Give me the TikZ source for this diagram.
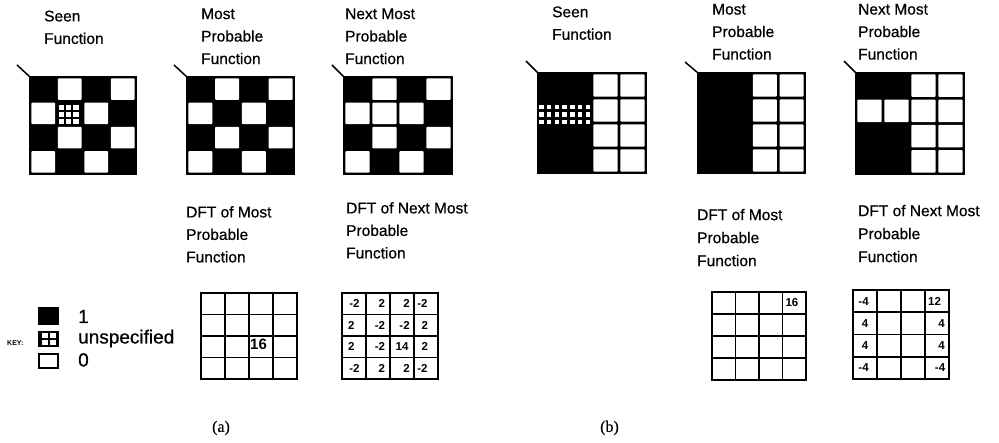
\documentclass[tikz,border=0pt]{standalone}
\usepackage{fontspec}
\setmainfont{Liberation Sans}
\newfontfamily\scanfont{Liberation Sans}[FakeBold=0.6]
\newfontfamily\capfont{Liberation Serif}[FakeBold=0.5]
\tikzset{
  lbl/.style={font=\scanfont\fontsize{15.5}{22.5}\selectfont, align=left, anchor=north west, inner sep=0pt},
  lblb/.style={lbl, font=\scanfont\fontsize{15.5}{23}\selectfont},
  gl/.style={line width=1.8pt},
  tickline/.style={line width=1.5pt},
  num/.style={font=\bfseries\fontsize{11.5}{12}\selectfont, inner sep=0pt},
  keytxt/.style={font=\scanfont\fontsize{19}{20}\selectfont, anchor=base west, inner sep=0pt},
  caplbl/.style={font=\capfont\fontsize{16}{18}\selectfont, inner sep=0pt},
}
% function grid: x0 y0 w h whites(col/row)
\newcommand\fgrid[5]{%
  \fill[black] (#1,#2) rectangle ++(#3,#4);
  \foreach \cc/\rr in {#5} {
    \fill[white, rounded corners=0.8pt] ({#1+\cc*#3/4+1.4},{#2+\rr*#4/4+1.4}) rectangle ({#1+(\cc+1)*#3/4-1.4},{#2+(\rr+1)*#4/4-1.4});
  }
  \draw[gl] (#1,#2) rectangle ++(#3,#4);
}
% DFT grid: x0 y0 w h
\newcommand\dgrid[4]{%
  \foreach \k in {1,2,3} {
    \draw[gl] ({#1+\k*#3/4},#2) -- ++(0,#4);
    \draw[gl] (#1,{#2+\k*#4/4}) -- ++(#3,0);
  }
  \draw[gl] (#1,#2) rectangle ++(#3,#4);
}
\newcommand\setg[4]{\def\Gx{#1}\def\Gy{#2}\def\Gw{#3}\def\Gh{#4}}
% name, column position, row, anchor, text
\newcommand\dnum[5]{\node[num,anchor=#4] (#1) at ({\Gx+#2*\Gw/4},{\Gy+(#3+0.5)*\Gh/4}) {#5};}
\begin{document}
\begin{tikzpicture}[x=1pt,y=-1pt]
\useasboundingbox (0,0) rectangle (999,443);

% ---------------- panel (a) ----------------
\node[lbl] (aSeenT) at (44,10.4) {Seen\\Function};
\node[lbl] (aMostT) at (201,8.2) {Most\\Probable\\Function};
\node[lbl] (aNextT) at (345,8.2) {Next Most\\Probable\\Function};

\fgrid{30}{77}{106}{97}{1/0,3/0,0/1,2/1,1/2,3/2,0/3,2/3}
\foreach \i in {0,1,2} \foreach \j in {0,1,2}
  \fill[white] ({58.5+\i*7.3},{105.5+\j*7}) rectangle ++(5.5,5);
\fgrid{187}{77}{107}{97}{1/0,3/0,0/1,2/1,1/2,3/2,0/3,2/3}
\fgrid{344}{77}{108}{97}{1/0,3/0,0/1,1/1,2/1,1/2,3/2,0/3,2/3}

\coordinate (aT1) at (17,65);  \coordinate (aC1) at (30,77);
\coordinate (aT2) at (174,65); \coordinate (aC2) at (187,77);
\coordinate (aT3) at (332,65); \coordinate (aC3) at (344,77);
\draw[tickline] (aT1) -- (aC1);
\draw[tickline] (aT2) -- (aC2);
\draw[tickline] (aT3) -- (aC3);

\node[lbl] (aDftT) at (186,206) {DFT of Most\\Probable\\Function};
\node[lbl] (aDftNT) at (346,202) {DFT of Next Most\\Probable\\Function};

\dgrid{201}{293}{96}{86}
\setg{201}{293}{96}{86}
\node[num, anchor=west, font=\bfseries\fontsize{15}{16}\selectfont] (a16) at ({\Gx+2.04*\Gw/4},{\Gy+2.4*\Gh/4}) {16};

\dgrid{342}{293}{96}{86}
\setg{342}{293}{96}{86}
\dnum{n00}{0.3}{0}{west}{-2}
\dnum{n01}{1.8}{0}{east}{2}
\dnum{n02}{2.83}{0}{east}{2}
\dnum{n03}{3.35}{0}{center}{-2}
\dnum{n10}{0.25}{1}{west}{2}
\dnum{n11}{1.8}{1}{east}{-2}
\dnum{n12}{2.83}{1}{east}{-2}
\dnum{n13}{3.45}{1}{center}{2}
\dnum{n20}{0.25}{2}{west}{2}
\dnum{n21}{1.8}{2}{east}{-2}
\dnum{n22}{2.5}{2}{center}{14}
\dnum{n23}{3.45}{2}{center}{2}
\dnum{n30}{0.3}{3}{west}{-2}
\dnum{n31}{1.8}{3}{east}{2}
\dnum{n32}{2.83}{3}{east}{2}
\dnum{n33}{3.35}{3}{center}{-2}

% key
\fill[black] (38,307) rectangle (59,325);
\fill[black] (38,331) rectangle (59,347);
\foreach \i in {0,1} \foreach \j in {0,1}
  \fill[white] ({41.5+\i*8},{333.5+\j*6.5}) rectangle ++(6,5);
\draw[gl] (38.9,353.9) rectangle (58.1,368.1);
\node[keytxt] (k1) at (78,323) {1};
\node[keytxt] (k2) at (78,343.5) {unspecified};
\node[keytxt] (k3) at (78,366.5) {0};
\node[anchor=base west, inner sep=0pt, font=\bfseries\fontsize{7}{8}\selectfont] (kkey) at (7,346) {KEY:};

\node[caplbl] (capA) at (221,428) {(a)};

% ---------------- panel (b) ----------------
\node[lbl] (bSeenT) at (552,6.2) {Seen\\Function};
\node[lbl] (bMostT) at (712,3.7) {Most\\Probable\\Function};
\node[lbl] (bNextT) at (858,3.7) {Next Most\\Probable\\Function};

\fgrid{538}{73}{108}{100}{2/0,3/0,2/1,3/1,2/2,3/2,2/3,3/3}
\foreach \i in {0,...,6} \foreach \j in {0,1,2}
  \fill[white] ({539+\i*7.75},{105+\j*7.5}) rectangle ++(4.5,4.3);
\fgrid{698}{73}{107}{100}{2/0,3/0,2/1,3/1,2/2,3/2,2/3,3/3}
\fgrid{856}{73}{108}{101}{2/0,3/0,0/1,1/1,2/1,3/1,2/2,3/2,2/3,3/3}

\coordinate (bT1) at (526,61); \coordinate (bC1) at (538,73);
\coordinate (bT2) at (685,62); \coordinate (bC2) at (698,73);
\coordinate (bT3) at (844,61); \coordinate (bC3) at (856,73);
\draw[tickline] (bT1) -- (bC1);
\draw[tickline] (bT2) -- (bC2);
\draw[tickline] (bT3) -- (bC3);

\node[lblb] (bDftT) at (697,208.7) {DFT of Most\\Probable\\Function};
\node[lblb] (bDftNT) at (858,204.7) {DFT of Next Most\\Probable\\Function};

\dgrid{712}{292}{94}{88}
\setg{712}{292}{94}{88}
\dnum{b16}{3.4}{0}{center}{16}

\dgrid{853}{290}{96}{89}
\setg{853}{290}{96}{89}
\dnum{m00}{0.22}{0}{west}{-4}
\dnum{m03}{3.4}{0}{center}{12}
\dnum{m10}{0.36}{1}{west}{4}
\dnum{m13}{3.83}{1}{east}{4}
\dnum{m20}{0.36}{2}{west}{4}
\dnum{m23}{3.83}{2}{east}{4}
\dnum{m30}{0.22}{3}{west}{-4}
\dnum{m33}{3.85}{3}{east}{-4}

\node[caplbl] (capB) at (609.5,428) {(b)};
\end{tikzpicture}
\end{document}
